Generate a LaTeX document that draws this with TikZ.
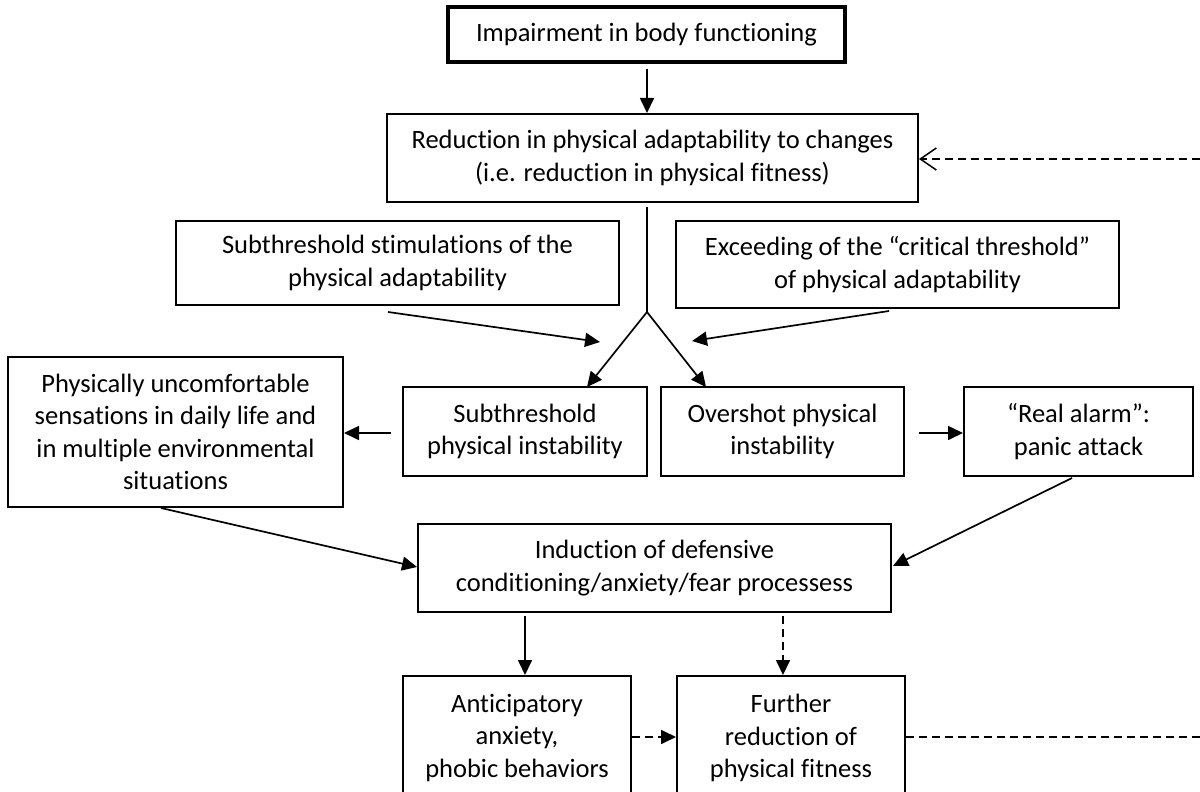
\documentclass[tikz,border=0pt]{standalone}
\usepackage{fontspec}
\setmainfont{Carlito}[RawFeature={-liga}]
\usetikzlibrary{arrows.meta}
\tikzset{
  box/.style={draw, line width=2pt, inner sep=0pt, align=center,
    font=\fontsize{26.5}{32.5}\selectfont},
  thickbox/.style={box, line width=4pt},
  ln/.style={line width=1.7pt},
  arr/.style={ln, -{Triangle[length=15pt,width=14pt]}},
  darr/.style={arr, dash pattern=on 8pt off 5pt},
  dln/.style={ln, dash pattern=on 8pt off 5pt},
  oarr/.style={ln, dash pattern=on 8pt off 5pt, -{Straight Barb[length=16pt,width=22pt,line width=1.5pt]}}
}
\begin{document}
\begin{tikzpicture}[x=1pt,y=-1pt]
\useasboundingbox (0,0) rectangle (1200,792);
\clip (0,0) rectangle (1200,792);
\fill[white] (0,0) rectangle (1200,792);

% nodes
\node[thickbox, minimum width=397pt, minimum height=55pt] (imp) at (646.5,34.5) {Impairment in body functioning};
\node[box, minimum width=531pt, minimum height=88pt] (red) at (652.5,158) {Reduction in physical adaptability to changes\\(i.e. reduction in physical fitness)};
\node[box, minimum width=443pt, minimum height=84pt] (sub) at (397.5,263) {Subthreshold stimulations of the\\physical adaptability};
\node[box, minimum width=443pt, minimum height=87pt] (exc) at (897.5,264.5) {Exceeding of the “critical threshold”\\of physical adaptability};
\node[box, minimum width=335pt, minimum height=150pt] (phys) at (175.5,432) {Physically uncomfortable\\sensations in daily life and\\in multiple environmental\\situations};
\node[box, minimum width=244pt, minimum height=89pt] (subi) at (525,431.5) {Subthreshold\\physical instability};
\node[box, minimum width=243pt, minimum height=89pt] (over) at (782.5,431.5) {Overshot physical\\instability};
\node[box, minimum width=229pt, minimum height=89pt] (real) at (1078.5,431.5) {“Real alarm”:\\panic attack};
\node[box, minimum width=473pt, minimum height=88pt] (ind) at (654.5,568) {Induction of defensive\\conditioning/anxiety/fear processess};
\node[box, minimum width=228pt, minimum height=124pt] (ant) at (517,738) {Anticipatory\\anxiety,\\phobic behaviors};
\node[box, minimum width=228pt, minimum height=124pt] (fur) at (791,738) {Further\\reduction of\\physical fitness};

% coordinates for free ends
\coordinate (a1s) at (647,69);
\coordinate (j) at (647,312);
\coordinate (jt) at (647,207);
\coordinate (jl) at (587,387);
\coordinate (jr) at (706,387);
\coordinate (s1) at (388,312);
\coordinate (s2) at (600,342);
\coordinate (e1) at (889,311);
\coordinate (e2) at (692,341);
\coordinate (si) at (391,433);
\coordinate (oi) at (919,433);
\coordinate (p1) at (161,508);
\coordinate (p2) at (417,567);
\coordinate (r1) at (1072,478);
\coordinate (r2) at (893,566);
\coordinate (d1) at (525,616);
\coordinate (d2) at (783,616);
\coordinate (fbT) at (1200,159);
\coordinate (fbB) at (1200,737);

% connectors
\draw[arr] (a1s) -- (a1s |- red.north);
\draw[ln] (jt) -- (j);
\draw[arr] (j) -- (jl);
\draw[arr] (j) -- (jr);
\draw[arr] (s1) -- (s2);
\draw[arr] (e1) -- (e2);
\draw[arr] (si) -- (si -| phys.east);
\draw[arr] (oi) -- (oi -| real.west);
\draw[arr] (p1) -- (p2);
\draw[arr] (r1) -- (r2);
\draw[arr] (d1) -- (d1 |- ant.north);
\draw[darr] (d2) -- (d2 |- fur.north);
\draw[darr] (ant.east |- fbB) -- (fur.west |- fbB);
\draw[dln] (fur.east |- fbB) -- (fbB);
\draw[oarr] (fbT) -- (red.east |- fbT);
\end{tikzpicture}
\end{document}
